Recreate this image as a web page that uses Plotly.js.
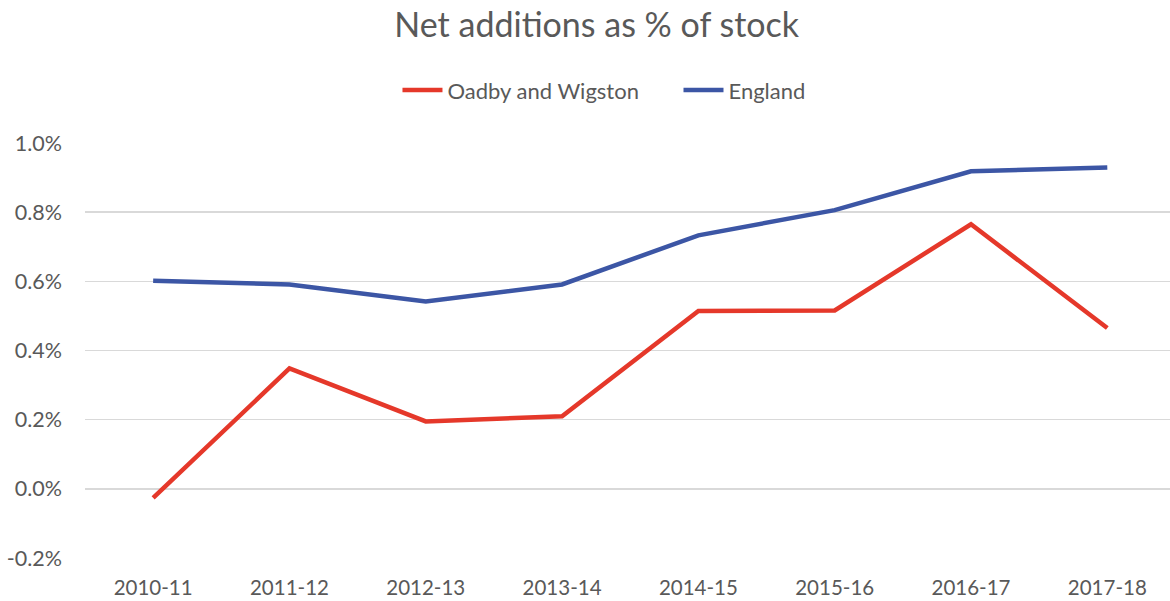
<!DOCTYPE html>
<html>
<head>
<meta charset="utf-8">
<script src="https://cdn.plot.ly/plotly-3.0.1.min.js"></script>
<style>
  html, body { margin: 0; padding: 0; background: #ffffff; }
  #chart { width: 1170px; height: 601px; }
</style>
</head>
<body>
<div id="chart"></div>
<script>
const categories = ["2010-11", "2011-12", "2012-13", "2013-14", "2014-15", "2015-16", "2016-17", "2017-18"];
const oadbyValues = [-0.026, 0.348, 0.195, 0.210, 0.514, 0.516, 0.765, 0.465];
const englandValues = [0.602, 0.591, 0.542, 0.591, 0.733, 0.806, 0.918, 0.929];
const yTickValues = [-0.2, 0.0, 0.2, 0.4, 0.6, 0.8, 1.0];
const yTickLabels = ["-0.2%", "0.0%", "0.2%", "0.4%", "0.6%", "0.8%", "1.0%"];

const textColor = "#595959";
const fontFamily = "Lato, 'Open Sans', 'DejaVu Sans', sans-serif";

const traces = [
  {
    x: categories, y: oadbyValues, name: "Oadby and Wigston",
    type: "scatter", mode: "lines",
    line: { color: "#E5382A", width: 4.5 },
    legend: "legend",
    hoverinfo: "skip"
  },
  {
    x: categories, y: englandValues, name: "England",
    type: "scatter", mode: "lines",
    line: { color: "#3C56A5", width: 4.5 },
    legend: "legend2",
    hoverinfo: "skip"
  }
];

const legendFont = { family: fontFamily, size: 22, color: textColor };

const layout = {
  width: 1170, height: 601,
  margin: { l: 85, r: 0, t: 143, b: 43, pad: 0 },
  paper_bgcolor: "#ffffff", plot_bgcolor: "#ffffff",
  font: { family: fontFamily, color: textColor, size: 20 },
  title: {
    text: "Net additions as % of stock",
    font: { family: fontFamily, size: 34, color: textColor },
    x: 0.51, xref: "container", xanchor: "center",
    y: 0.958, yref: "container", yanchor: "middle"
  },
  showlegend: true,
  legend: {
    orientation: "h",
    x: 0.288, xanchor: "left",
    y: 1.127, yanchor: "middle",
    font: legendFont, itemwidth: 40
  },
  legend2: {
    orientation: "h",
    x: 0.547, xanchor: "left",
    y: 1.127, yanchor: "middle",
    font: legendFont, itemwidth: 40
  },
  xaxis: {
    type: "category",
    range: [-0.5, 7.46],
    showgrid: false, zeroline: false, showline: false,
    ticks: "", ticklabelstandoff: 15,
    tickfont: { family: fontFamily, size: 20.5, color: textColor },
    fixedrange: true
  },
  yaxis: {
    range: [-0.2, 1.0],
    tickvals: yTickValues, ticktext: yTickLabels,
    showgrid: true, gridcolor: "#D9D9D9", gridwidth: 1.6,
    zeroline: false, showline: false, ticks: "",
    ticklabelstandoff: 22,
    tickfont: { family: fontFamily, size: 21.5, color: textColor },
    fixedrange: true
  }
};

Plotly.newPlot("chart", traces, layout, { displayModeBar: false, staticPlot: true });
</script>
</body>
</html>
